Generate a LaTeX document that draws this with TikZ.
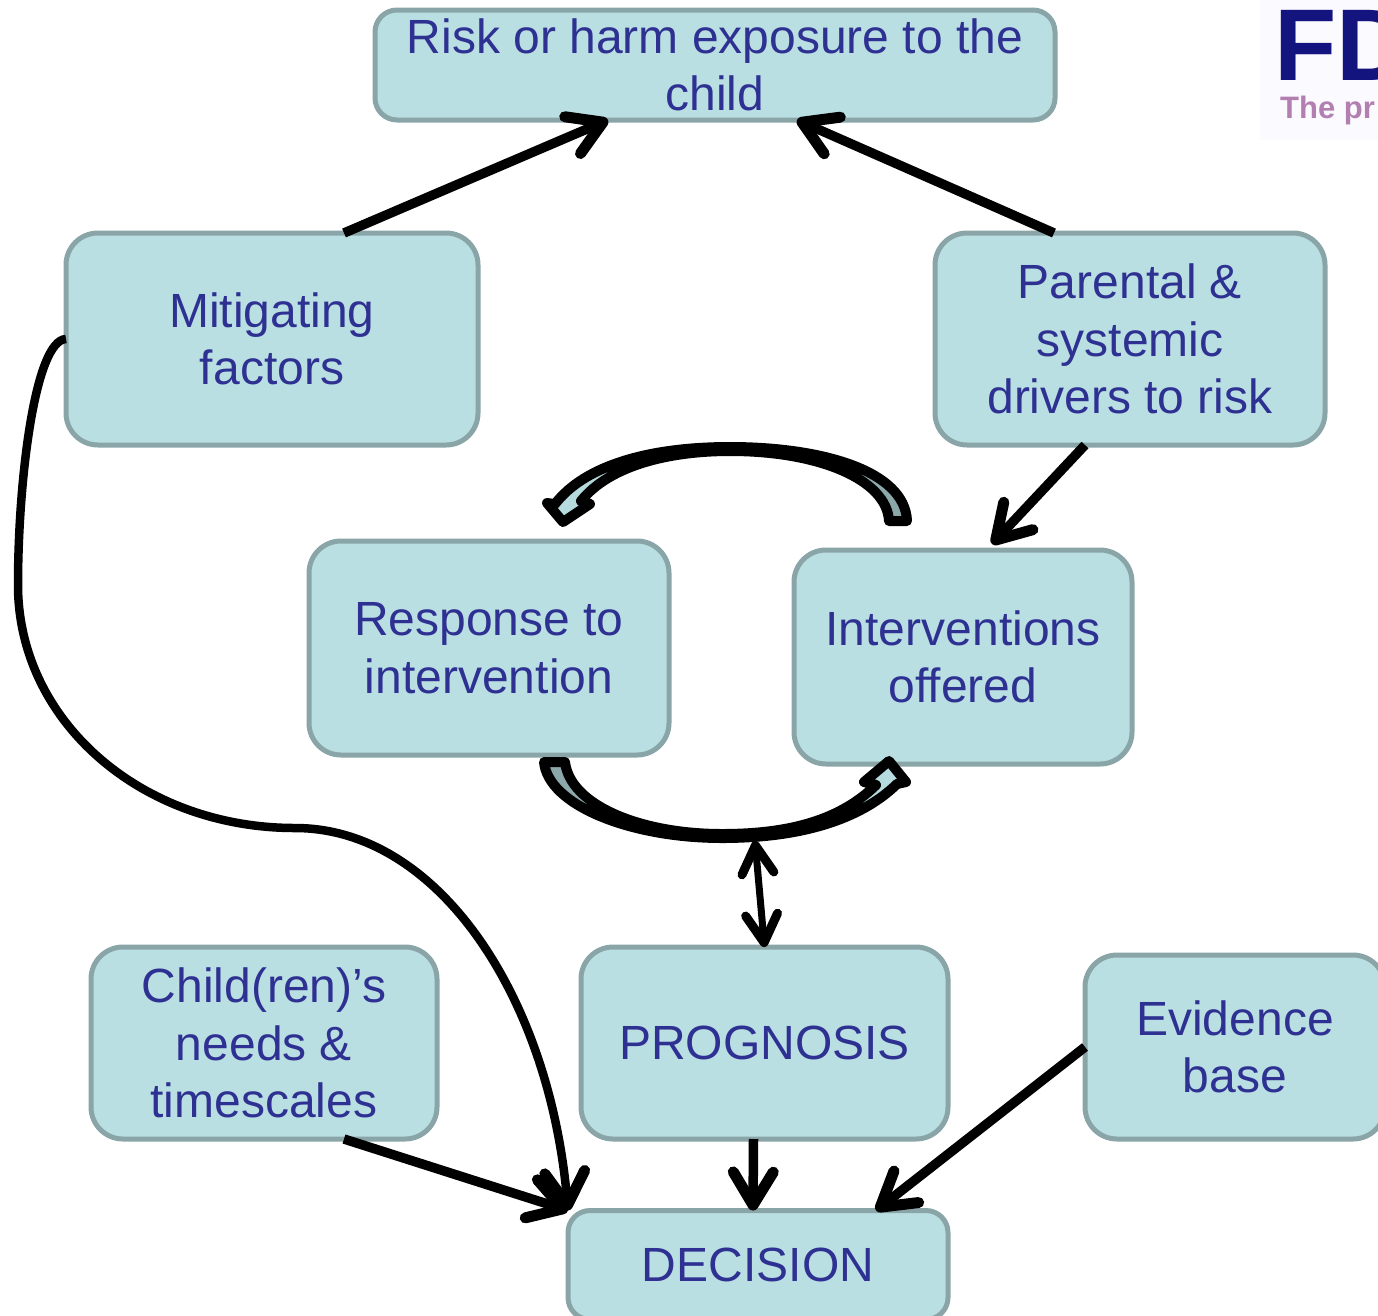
\documentclass[tikz,border=0pt]{standalone}
\usepackage{fontspec}
\setmainfont{Liberation Sans}
\usetikzlibrary{arrows.meta}
\definecolor{boxfill}{HTML}{B9DFE2}
\definecolor{boxline}{HTML}{8AA5A8}
\definecolor{boxtext}{HTML}{2E3192}
\definecolor{logoblue}{HTML}{14147F}
\definecolor{logopurple}{HTML}{B27FB0}
\definecolor{logoback}{HTML}{FBFAFE}
\tikzset{
  box/.style={draw=boxline,fill=boxfill,line width=5pt,rounded corners=32pt,inner sep=0pt,outer sep=0pt,
    align=center,text=boxtext,font=\fontsize{48}{57.5}\selectfont},
  arrowline/.style={draw=black,line width=9.5pt,-{Straight Barb[length=33pt,width=40pt,line width=11pt,round]}},
  twoway/.style={draw=black,line width=7pt,{Straight Barb[length=28pt,width=32pt,line width=9pt,round]}-{Straight Barb[length=28pt,width=32pt,line width=9pt,round]}},
  blockarc/.style={draw=black,line width=10pt,line join=round}
}
\begin{document}
\begin{tikzpicture}[x=1pt,y=-1pt]
\useasboundingbox (0,0) rectangle (1378,1315);
\clip (0,0) rectangle (1378,1315);
% logo fragment
\fill[logoback] (1260,0) rectangle (1378,140);
\node[inner sep=0pt,anchor=base west,text=logoblue,font=\fontsize{102}{102}\bfseries\selectfont] (logoa) at (1274,80) {FD};
\node[inner sep=0pt,anchor=base west,text=logopurple,font=\fontsize{31}{31}\bfseries\selectfont] (logob) at (1280,118) {The pr};
% boxes
\node[box,rounded corners=22pt,minimum width=680pt,minimum height=110pt] (risk) at (715,65) {Risk or harm exposure to the\\child};
\node[box,minimum width=412pt,minimum height=212pt] (mit) at (272,339) {Mitigating\\factors};
\node[box,minimum width=390pt,minimum height=212pt] (par) at (1130,339) {Parental \&\\systemic\\drivers to risk};
\node[box,minimum width=360pt,minimum height=214pt] (resp) at (489,648) {Response to\\intervention};
\node[box,minimum width=338pt,minimum height=214pt] (int) at (963,657) {Interventions\\offered};
\node[box,minimum width=346pt,minimum height=192pt] (child) at (264,1043) {Child(ren)’s\\needs \&\\timescales};
\node[box,minimum width=367pt,minimum height=192pt] (prog) at (764.5,1043) {PROGNOSIS};
\node[box,minimum width=300pt,minimum height=184pt] (evid) at (1235,1047) {Evidence\\base};
\node[box,rounded corners=22pt,minimum width=380pt,minimum height=109pt] (dec) at (758,1265) {DECISION};
% block arcs
\path[blockarc,left color=boxfill,right color=boxline]
  (907,521) .. controls (905,470) and (820,447) .. (730,447)
  .. controls (650,447) and (585,465) .. (555,504)
  -- (547,503) -- (563,522) -- (590,504) -- (581,501)
  .. controls (610,465) and (670,451) .. (730,451)
  .. controls (820,451) and (887,480) .. (889,521) -- cycle;
\path[blockarc,left color=boxline,right color=boxfill]
  (544,762) .. controls (548,805) and (630,838) .. (722,838)
  .. controls (800,838) and (860,820) .. (897,784)
  -- (906,782) -- (889,761) -- (864,782) -- (876,785)
  .. controls (840,820) and (790,834) .. (722,834)
  .. controls (640,834) and (570,805) .. (565,762) -- cycle;
\coordinate (loopb) at (755,841);
% connectors
\draw[arrowline] ([xshift=72pt]mit.north) -- ([xshift=-107pt]risk.south);
\draw[arrowline] ([xshift=-76pt]par.north) -- ([xshift=82pt]risk.south);
\draw[arrowline] ([xshift=-45pt]par.south) -- ([xshift=29pt,yshift=6pt]int.north);
\draw[twoway] (loopb) -- (prog.north);
\draw[arrowline] ([xshift=-11pt]prog.south) -- ([xshift=-5pt]dec.north);
\draw[arrowline] (evid.west) -- ([xshift=118pt]dec.north);
\draw[arrowline] ([xshift=80pt]child.south) -- (dec.north west);
\draw[arrowline,line width=8.5pt] (mit.west) .. controls (35,340) and (18,480) .. (18,585)
  .. controls (18,720) and (140,828) .. (295,828)
  .. controls (440,828) and (550,1000) .. (dec.north west);
\end{tikzpicture}
\end{document}
